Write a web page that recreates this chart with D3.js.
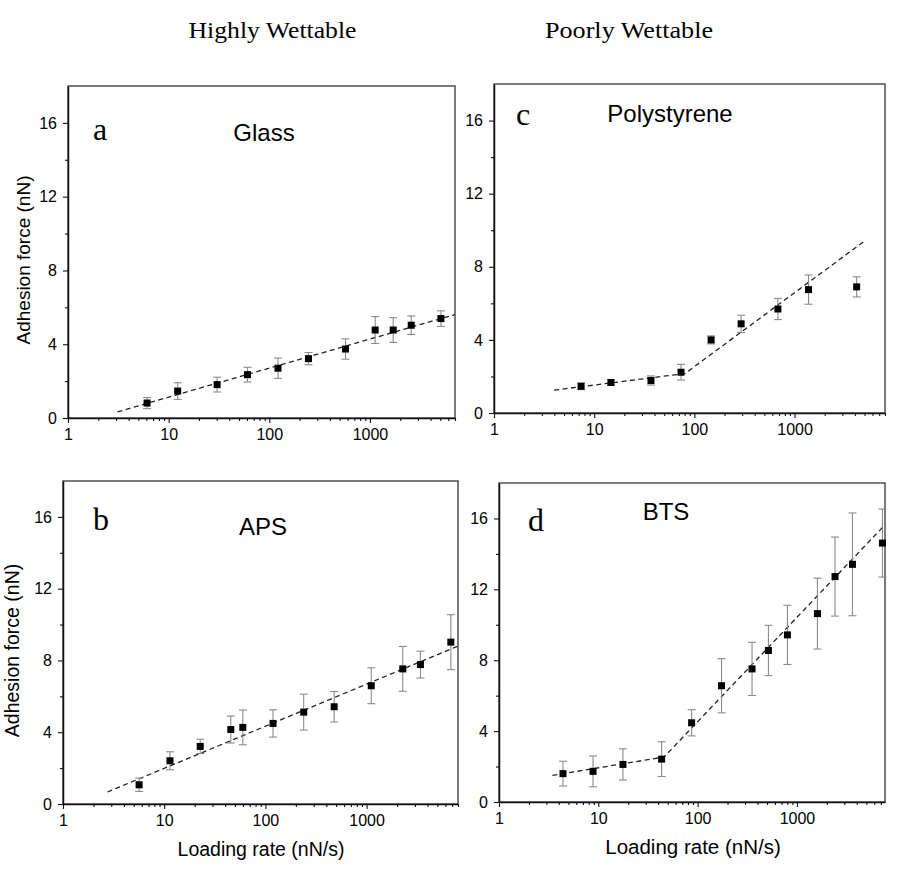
<!DOCTYPE html>
<html>
<head>
<meta charset="utf-8">
<script src="https://cdn.jsdelivr.net/npm/d3@7"></script>
<style>
  body { margin: 0; background: #fff; }
  svg { display: block; }
  .tick text { font-family: Arial, "Liberation Sans", sans-serif; font-size: 16px; fill: #000; }
  .sans { font-family: Arial, "Liberation Sans", sans-serif; }
  .serif { font-family: "Times New Roman", "Liberation Serif", serif; }
</style>
</head>
<body>
<svg id="chart" width="923" height="879"></svg>
<script>
"use strict"

/****** DATA ******/
// a: Glass
const rateA  = [6.1, 12.3, 30.3, 60.7, 122, 245, 572, 1127, 1702, 2570, 5070]
const forceA = [0.81, 1.46, 1.81, 2.35, 2.7, 3.22, 3.74, 4.77, 4.77, 5.03, 5.39]
const errA   = [0.3, 0.45, 0.4, 0.4, 0.55, 0.33, 0.55, 0.73, 0.67, 0.5, 0.42]
const fitA   = [[3.1, 0.33], [7000, 5.61]]

// b: APS
const rateB  = [5.65, 11.4, 22.7, 45.5, 59.8, 119, 239, 478, 1112, 2276, 3404, 6800]
const forceB = [1.07, 2.41, 3.21, 4.15, 4.27, 4.49, 5.12, 5.42, 6.59, 7.53, 7.77, 9.02]
const errB   = [0.37, 0.5, 0.4, 0.75, 0.97, 0.76, 1.0, 0.85, 1.0, 1.25, 0.75, 1.53]
const fitB   = [[2.75, 0.67], [8000, 8.8]]

// c: Polystyrene
const rateC  = [7.4, 14.7, 36.9, 73.6, 147, 293, 682, 1380, 4170]
const forceC = [1.46, 1.67, 1.78, 2.23, 4.0, 4.88, 5.69, 6.75, 6.9]
const errC   = [0.18, 0.15, 0.25, 0.43, 0.22, 0.47, 0.58, 0.8, 0.55]
const fitC   = [[3.98, 1.25], [80.7, 2.16], [5180, 9.47]]

// d: BTS
const rateD  = [4.41, 8.85, 17.7, 43.4, 87, 174, 353, 516, 802, 1607, 2417, 3622, 7260]
const forceD = [1.6, 1.73, 2.12, 2.42, 4.47, 6.56, 7.51, 8.55, 9.43, 10.63, 12.72, 13.41, 14.61]
const errD   = [0.7, 0.87, 0.88, 0.98, 0.74, 1.53, 1.5, 1.42, 1.67, 2.0, 2.23, 2.9, 1.92]
const fitD   = [[3.45, 1.5], [45.9, 2.54], [7260, 15.49]]

const panelLetters = ['a', 'b', 'c', 'd']
const panelTitles  = ['Glass', 'APS', 'Polystyrene', 'BTS']
const columnTitles = ['Highly Wettable', 'Poorly Wettable']
const yTicks = [0, 4, 8, 12, 16]
const yMinor = [2, 6, 10, 14]
const xTicks = [1, 10, 100, 1000]
const yLabel = 'Adhesion force (nN)'
const xLabel = 'Loading rate (nN/s)'

/****** LAYOUT ******/
const layout = [
  { left: 68, top: 86, right: 455, bottom: 418, xMax: 7000,
    letter: [93, 140], title: [264, 140.5], yLab: [29.5, 19], xLab: null },
  { left: 63, top: 481, right: 458, bottom: 804, xMax: 8000,
    letter: [93, 530], title: [263, 535], yLab: [19, 19.5], xLab: [261, 856, 19.5] },
  { left: 494, top: 84, right: 885, bottom: 413, xMax: 8000,
    letter: [516, 125], title: [670, 121.5], yLab: null, xLab: null },
  { left: 499, top: 483, right: 885, bottom: 802, xMax: 7700,
    letter: [528, 531], title: [666, 520], yLab: null, xLab: [693, 854, 20.5] }
]
const series = [
  { rate: rateA, force: forceA, err: errA, fit: fitA },
  { rate: rateB, force: forceB, err: errB, fit: fitB },
  { rate: rateC, force: forceC, err: errC, fit: fitC },
  { rate: rateD, force: forceD, err: errD, fit: fitD }
]

const svg = d3.select('#chart')

// column headings
svg.selectAll('text.col')
  .data(columnTitles)
  .enter().append('text')
    .attr('class', 'col serif')
    .attr('x', (d, i) => [272.5, 629][i])
    .attr('y', 38)
    .attr('text-anchor', 'middle')
    .attr('font-size', 23)
    .attr('textLength', 168)
    .attr('lengthAdjust', 'spacingAndGlyphs')
    .text(d => d)

function minorTicks(xMax) {
  const out = []
  for (let k = 1; k < xMax; k *= 10) {
    for (let m = 2; m <= 9; m++) if (m * k <= xMax) out.push(m * k)
  }
  return out
}

layout.forEach((p, i) => {
  const s = series[i]
  const x = d3.scaleLog().domain([1, p.xMax]).range([p.left, p.right])
  const y = d3.scaleLinear().domain([0, 18]).range([p.bottom, p.top])
  const g = svg.append('g')

  // frame
  g.append('rect')
    .attr('x', p.left).attr('y', p.top)
    .attr('width', p.right - p.left).attr('height', p.bottom - p.top)
    .attr('fill', 'none').attr('stroke', '#444').attr('stroke-width', 1.4)

  // axes
  const xAxis = g.append('g').attr('transform', `translate(0,${p.bottom})`)
    .call(d3.axisBottom(x).tickValues(xTicks).tickFormat(d3.format('d'))
      .tickSize(5).tickSizeOuter(0).tickPadding(6))
  g.append('g').attr('transform', `translate(0,${p.bottom})`)
    .call(d3.axisBottom(x).tickValues(minorTicks(p.xMax)).tickFormat('')
      .tickSize(3).tickSizeOuter(0))
    .select('.domain').remove()
  const yAxis = g.append('g').attr('transform', `translate(${p.left},0)`)
    .call(d3.axisLeft(y).tickValues(yTicks).tickSize(5).tickSizeOuter(0).tickPadding(6))
  g.append('g').attr('transform', `translate(${p.left},0)`)
    .call(d3.axisLeft(y).tickValues(yMinor).tickFormat('').tickSize(3).tickSizeOuter(0))
    .select('.domain').remove()
  g.selectAll('.domain').attr('stroke', '#111').attr('stroke-width', 1.5)
  g.selectAll('.tick line').attr('stroke', '#111').attr('stroke-width', 1.1)

  // fit line
  g.append('path')
    .datum(s.fit)
    .attr('d', d3.line().x(d => x(d[0])).y(d => y(d[1])))
    .attr('fill', 'none')
    .attr('stroke', '#222')
    .attr('stroke-width', 1.3)
    .attr('stroke-dasharray', '5,3.5')

  const pts = s.rate.map((r, j) => ({ r: r, f: s.force[j], e: s.err[j] }))

  // error bars
  const eb = g.selectAll('g.eb').data(pts).enter().append('g')
    .attr('class', 'eb')
    .attr('stroke', '#8a8a8a').attr('stroke-width', 1.1)
  eb.append('line')
    .attr('x1', d => x(d.r)).attr('x2', d => x(d.r))
    .attr('y1', d => y(d.f - d.e)).attr('y2', d => y(d.f + d.e))
  eb.append('line')
    .attr('x1', d => x(d.r) - 4).attr('x2', d => x(d.r) + 4)
    .attr('y1', d => y(d.f + d.e)).attr('y2', d => y(d.f + d.e))
  eb.append('line')
    .attr('x1', d => x(d.r) - 4).attr('x2', d => x(d.r) + 4)
    .attr('y1', d => y(d.f - d.e)).attr('y2', d => y(d.f - d.e))

  // markers
  g.selectAll('rect.pt').data(pts).enter().append('rect')
    .attr('class', 'pt')
    .attr('x', d => x(d.r) - 3.5).attr('y', d => y(d.f) - 3.5)
    .attr('width', 7).attr('height', 7)
    .attr('fill', '#000')

  // panel letter and title
  g.append('text')
    .attr('class', 'serif')
    .attr('x', p.letter[0]).attr('y', p.letter[1])
    .attr('font-size', 32)
    .text(panelLetters[i])
  g.append('text')
    .attr('class', 'sans')
    .attr('x', p.title[0]).attr('y', p.title[1])
    .attr('text-anchor', 'middle')
    .attr('font-size', 24)
    .text(panelTitles[i])

  // axis titles
  if (p.yLab) {
    g.append('text')
      .attr('class', 'sans')
      .attr('transform', `translate(${p.yLab[0]},${(p.top + p.bottom) / 2 + 8}) rotate(-90)`)
      .attr('text-anchor', 'middle')
      .attr('font-size', p.yLab[1])
      .text(yLabel)
  }
  if (p.xLab) {
    g.append('text')
      .attr('class', 'sans')
      .attr('x', p.xLab[0]).attr('y', p.xLab[1])
      .attr('text-anchor', 'middle')
      .attr('font-size', p.xLab[2])
      .text(xLabel)
  }
})
</script>
</body>
</html>
